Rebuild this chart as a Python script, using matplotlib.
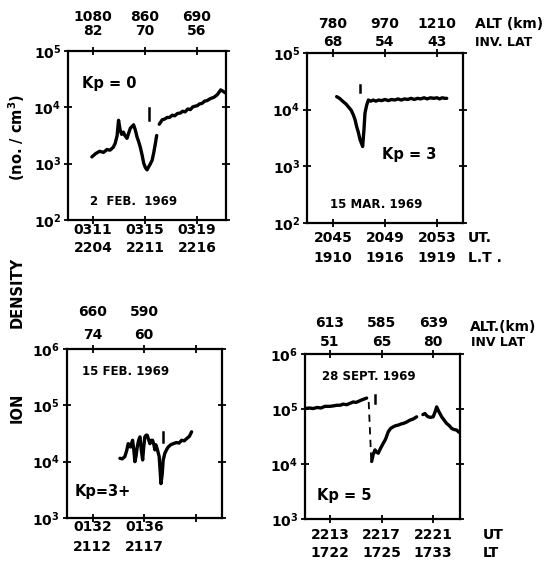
import numpy as np
import matplotlib
matplotlib.use("Agg")
import matplotlib.pyplot as plt
from matplotlib import transforms

plt.rcParams["font.family"] = ["DejaVu Sans"]
plt.rcParams["font.weight"] = "bold"
plt.rcParams["mathtext.fontset"] = "dejavusans"
plt.rcParams["mathtext.default"] = "bf"

# ---------------- data (time in minutes from first labelled UT tick, log10 density) ----------
# 2 Feb 1969, Kp = 0
feb2_t = [-0.1, 0.2, 0.5, 0.8, 1.06, 1.3, 1.55, 1.7, 1.85, 1.96, 2.08, 2.2, 2.33, 2.45, 2.61,
          2.75, 2.87, 3.0, 3.12, 3.25, 3.39, 3.5, 3.64, 3.78, 3.9, 4.03, 4.16, 4.3, 4.42, 4.55,
          4.68, 4.81, 4.9]
feb2_logn = [3.12, 3.18, 3.22, 3.2, 3.25, 3.24, 3.29, 3.36, 3.5, 3.77, 3.6, 3.52, 3.56, 3.5,
             3.45, 3.55, 3.63, 3.66, 3.69, 3.6, 3.47, 3.4, 3.29, 3.15, 3.01, 2.93, 2.89, 2.95,
             3.0, 3.06, 3.2, 3.37, 3.5]
feb2_t2 = [5.1, 5.33, 5.5, 5.71, 5.9, 6.1, 6.3, 6.5, 6.74, 6.9, 7.1, 7.3, 7.5, 7.7, 8.04, 8.2,
           8.4, 8.6, 8.8, 9.0, 9.33, 9.5, 9.6, 9.84, 10.05, 10.25]
feb2_logn2 = [3.7, 3.78, 3.79, 3.82, 3.82, 3.86, 3.85, 3.89, 3.9, 3.93, 3.92, 3.97, 3.96, 4.01,
              4.03, 4.06, 4.07, 4.11, 4.12, 4.15, 4.18, 4.21, 4.23, 4.31, 4.28, 4.25]

# 15 Mar 1969, Kp = 3
mar15_t = [0.28, 0.5, 0.79, 1.0, 1.18, 1.4, 1.56, 1.7, 1.82, 1.95, 2.08, 2.2, 2.28, 2.33, 2.38,
           2.46, 2.59, 2.72, 2.9, 3.1, 3.3, 3.5, 3.75, 4.0, 4.25, 4.5, 4.75, 5.0, 5.25, 5.5,
           5.75, 6.0, 6.25, 6.5, 6.75, 7.0, 7.25, 7.5, 7.75, 8.0, 8.2, 8.4, 8.6, 8.75]
mar15_logn = [4.23, 4.2, 4.14, 4.1, 4.05, 3.99, 3.91, 3.82, 3.7, 3.6, 3.47, 3.4, 3.35, 3.5, 3.64,
              3.94, 4.08, 4.17, 4.15, 4.17, 4.15, 4.17, 4.16, 4.18, 4.16, 4.18, 4.17, 4.19,
              4.17, 4.19, 4.18, 4.2, 4.18, 4.2, 4.19, 4.21, 4.19, 4.21, 4.2, 4.21, 4.19, 4.21,
              4.2, 4.2]

# 15 Feb 1969, Kp = 3+
feb15_t = [2.12, 2.3, 2.5, 2.65, 2.76, 2.85, 2.95, 3.02, 3.1, 3.2, 3.28, 3.37, 3.46, 3.57, 3.67,
           3.78, 3.88, 3.96, 4.05, 4.15, 4.23, 4.33, 4.44, 4.55, 4.65, 4.75, 4.83, 4.9, 4.96,
           5.06, 5.16, 5.23, 5.3, 5.35, 5.4, 5.47, 5.6, 5.75, 5.86, 6.05, 6.25, 6.5, 6.7, 6.9,
           7.1, 7.29, 7.5, 7.67]
feb15_logn = [4.06, 4.05, 4.09, 4.2, 4.32, 4.3, 4.26, 4.32, 4.38, 4.2, 4.0, 4.1, 4.26, 4.38, 4.44,
              4.2, 4.03, 4.25, 4.44, 4.47, 4.47, 4.4, 4.32, 4.38, 4.38, 4.3, 4.21, 4.3, 4.26,
              4.18, 4.09, 3.85, 3.61, 3.7, 3.79, 4.03, 4.15, 4.22, 4.26, 4.3, 4.32, 4.34, 4.33,
              4.38, 4.37, 4.41, 4.45, 4.53]

# 28 Sept 1969, Kp = 5
sep28_t = [-1.94, -1.6, -1.3, -1.0, -0.7, -0.4, 0.0, 0.3, 0.52, 0.8, 1.0, 1.3, 1.5, 1.81, 2.0,
           2.2, 2.5, 2.84]
sep28_logn = [5.01, 5.02, 5.01, 5.03, 5.02, 5.05, 5.05, 5.06, 5.07, 5.07, 5.09, 5.08, 5.1,
              5.13, 5.12, 5.14, 5.17, 5.2]
sep28_gap_t = [3.0, 3.2]
sep28_gap_logn = [5.13, 4.05]
sep28_t2 = [3.23, 3.35, 3.49, 3.6, 3.74, 3.9, 4.13, 4.3, 4.52, 4.7, 4.91, 5.1, 5.3, 5.5, 5.68,
            5.9, 6.2, 6.45, 6.72]
sep28_logn2 = [4.05, 4.18, 4.26, 4.22, 4.2, 4.28, 4.38, 4.45, 4.59, 4.65, 4.68, 4.7, 4.71, 4.73,
               4.74, 4.76, 4.8, 4.82, 4.86]
sep28_t3 = [7.2, 7.36, 7.5, 7.62, 7.8, 8.0, 8.15, 8.27, 8.45, 8.66, 8.85, 9.04, 9.25, 9.43, 9.6,
            9.82, 10.0]
sep28_logn3 = [4.9, 4.92, 4.88, 4.86, 4.85, 4.86, 4.95, 5.04, 4.95, 4.86, 4.8, 4.74, 4.7, 4.65,
               4.63, 4.62, 4.58]

# plasmapause markers: time, lower and upper log10 density of the short bar
pp_t = [4.29, 2.08, 5.47, 3.49]
pp_lo = [3.77, 4.31, 4.35, 5.11]
pp_hi = [3.99, 4.44, 4.53, 5.26]

ut_ticks = [0, 4, 8]
feb2_ut = ["0311", "0315", "0319"]
feb2_lt = ["2204", "2211", "2216"]
feb2_alt = ["1080", "860", "690"]
feb2_lat = ["82", "70", "56"]
mar15_ut = ["2045", "2049", "2053"]
mar15_lt = ["1910", "1916", "1919"]
mar15_alt = ["780", "970", "1210"]
mar15_lat = ["68", "54", "43"]
feb15_ut = ["0132", "0136", ""]
feb15_lt = ["2112", "2117", ""]
feb15_alt = ["660", "590", ""]
feb15_lat = ["74", "60", ""]
sep28_ut = ["2213", "2217", "2221"]
sep28_lt = ["1722", "1725", "1733"]
sep28_alt = ["613", "585", "639"]
sep28_lat = ["51", "65", "80"]

# ---------------- figure ----------------
W, H = 556, 570
fig = plt.figure(figsize=(W / 100, H / 100), dpi=100)
FS = 10


def make_axes(l, t, r, b, xlim, dec_lo):
    ax = fig.add_axes([l / W, 1 - b / H, (r - l) / W, (b - t) / H])
    ax.set_yscale("log")
    ax.set_xlim(*xlim)
    ax.set_ylim(10.0 ** dec_lo, 10.0 ** (dec_lo + 3))
    decs = list(range(dec_lo, dec_lo + 4))
    ax.set_yticks([10.0 ** d for d in decs],
                  [r"$\mathbf{10^{%d}}$" % d for d in decs])
    ax.yaxis.set_minor_locator(matplotlib.ticker.NullLocator())
    ax.set_xticks(ut_ticks, ["", "", ""])
    ax.tick_params(direction="inout", length=6, width=1.3, top=True, right=True,
                   labelsize=FS, pad=2)
    for sp in ax.spines.values():
        sp.set_linewidth(1.6)
    return ax


def rows(ax, labels, ypix):
    tr = transforms.blended_transform_factory(ax.transData, fig.transFigure)
    for t, s in zip(ut_ticks, labels):
        if s:
            ax.text(t, 1 - ypix / H, s, transform=tr, ha="center", va="center",
                    fontsize=FS, clip_on=False)


def ftext(x, y, s, size=FS, **kw):
    fig.text(x / W, 1 - y / H, s, fontsize=size, va="center", **kw)


def curve(ax, t, logn, **kw):
    ax.plot(t, 10.0 ** np.asarray(logn), color="black", lw=2.4,
            solid_joinstyle="round", solid_capstyle="round", **kw)


def marker(ax, i):
    ax.plot([pp_t[i], pp_t[i]], [10.0 ** pp_lo[i], 10.0 ** pp_hi[i]], color="black",
            lw=1.8)


# 2 Feb 1969
ax1 = make_axes(68, 51, 226, 220, (-1.94, 10.25), 2)
curve(ax1, feb2_t, feb2_logn)
curve(ax1, feb2_t2, feb2_logn2)
marker(ax1, 0)
ax1.text(0.09, 0.81, "Kp = 0", transform=ax1.transAxes, fontsize=10.5, va="center")
ax1.text(0.14, 0.107, "2  FEB.  1969", transform=ax1.transAxes, fontsize=8.5, va="center")
rows(ax1, feb2_alt, 17)
rows(ax1, feb2_lat, 31)
rows(ax1, feb2_ut, 230)
rows(ax1, feb2_lt, 248)

# 15 Mar 1969
ax2 = make_axes(307, 53, 463, 223, (-2.0, 10.0), 2)
curve(ax2, mar15_t, mar15_logn)
marker(ax2, 1)
ax2.text(0.48, 0.40, "Kp = 3", transform=ax2.transAxes, fontsize=10.5, va="center")
ax2.text(0.147, 0.106, "15 MAR. 1969", transform=ax2.transAxes, fontsize=8.5, va="center")
rows(ax2, mar15_alt, 24)
rows(ax2, mar15_lat, 42)
rows(ax2, mar15_ut, 238)
rows(ax2, mar15_lt, 258)
ftext(475, 24, "ALT (km)")
ftext(475, 42, "INV. LAT", size=9)
ftext(468, 238, "UT.")
ftext(468, 258, "L.T .")

# 15 Feb 1969
ax3 = make_axes(66.7, 349, 221.7, 518, (-2.0, 10.0), 3)
curve(ax3, feb15_t, feb15_logn)
marker(ax3, 2)
ax3.text(0.099, 0.864, "15 FEB. 1969", transform=ax3.transAxes, fontsize=8.5, va="center")
ax3.text(0.054, 0.154, "Kp=3+", transform=ax3.transAxes, fontsize=10.5, va="center")
rows(ax3, feb15_alt, 312)
rows(ax3, feb15_lat, 335)
rows(ax3, feb15_ut, 527)
rows(ax3, feb15_lt, 547)

# 28 Sept 1969
ax4 = make_axes(305, 354, 460, 519.3, (-1.94, 10.08), 3)
curve(ax4, sep28_t, sep28_logn)
ax4.plot(sep28_gap_t, 10.0 ** np.asarray(sep28_gap_logn), color="black", lw=1.3,
         ls=(0, (4, 3)))
curve(ax4, sep28_t2, sep28_logn2)
curve(ax4, sep28_t3, sep28_logn3)
marker(ax4, 3)
ax4.text(0.11, 0.861, "28 SEPT. 1969", transform=ax4.transAxes, fontsize=8.5, va="center")
ax4.text(0.077, 0.141, "Kp = 5", transform=ax4.transAxes, fontsize=10.5, va="center")
rows(ax4, sep28_alt, 323)
rows(ax4, sep28_lat, 342)
rows(ax4, sep28_ut, 535)
rows(ax4, sep28_lt, 553)
ftext(470, 327, "ALT.(km)")
ftext(471, 343, "INV LAT", size=9)
ftext(483, 535, "UT")
ftext(483, 553, "LT")

# shared y label
for s, yc in [("ION", 408), ("DENSITY", 292), ("(no. / cm$^{3}$)", 137)]:
    fig.text(17 / W, 1 - yc / H, s, rotation=90, fontsize=10.5, ha="center", va="center",
             fontweight="heavy")

fig.savefig("out.png", dpi=100)
